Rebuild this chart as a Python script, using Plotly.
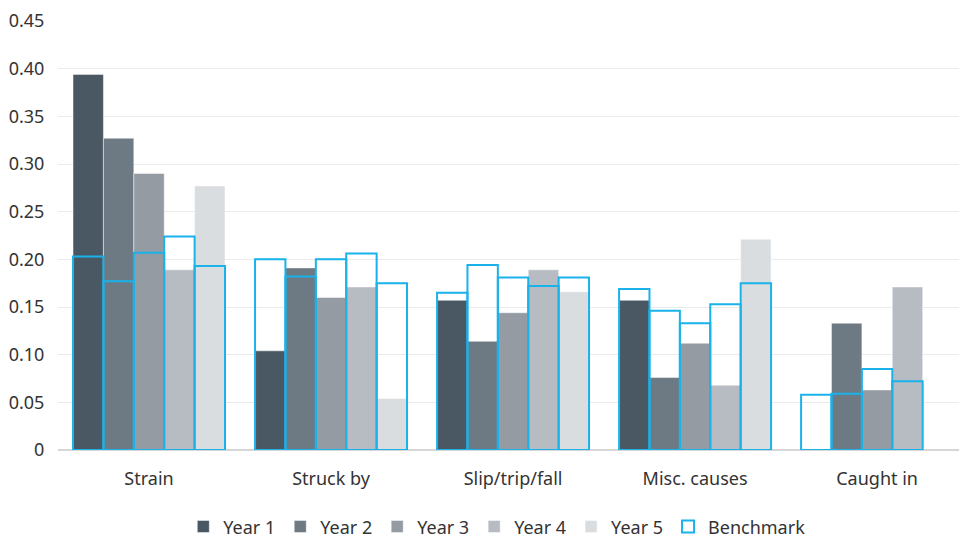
import plotly.graph_objects as go

# Injury cause categories
categories = ["Strain", "Struck by", "Slip/trip/fall", "Misc. causes", "Caught in"]
years = ["Year 1", "Year 2", "Year 3", "Year 4", "Year 5"]

# Rate per cause, one list per year
year_1 = [0.394, 0.104, 0.157, 0.157, 0.0]
year_2 = [0.327, 0.191, 0.114, 0.076, 0.133]
year_3 = [0.290, 0.160, 0.144, 0.112, 0.063]
year_4 = [0.189, 0.171, 0.189, 0.068, 0.171]
year_5 = [0.277, 0.054, 0.166, 0.221, None]

# Benchmark rate for each year slot within every cause
bench_1 = [0.203, 0.200, 0.165, 0.169, 0.058]
bench_2 = [0.177, 0.182, 0.194, 0.146, 0.059]
bench_3 = [0.207, 0.200, 0.181, 0.133, 0.085]
bench_4 = [0.224, 0.206, 0.172, 0.153, 0.072]
bench_5 = [0.193, 0.175, 0.181, 0.175, None]

y_ticks = [0, 0.05, 0.10, 0.15, 0.20, 0.25, 0.30, 0.35, 0.40, 0.45]
y_tick_text = ["0", "0.05", "0.10", "0.15", "0.20", "0.25", "0.30", "0.35", "0.40", "0.45"]

year_values = [year_1, year_2, year_3, year_4, year_5]
bench_values = [bench_1, bench_2, bench_3, bench_4, bench_5]
year_colors = ["#4a5864", "#6e7a83", "#949ba3", "#b7bbc2", "#dadde0"]
bench_color = "#1ab2ea"

bar_w = 0.167
start = -2.5 * bar_w

fig = go.Figure()
for i, (name, vals, col) in enumerate(zip(years, year_values, year_colors)):
    fig.add_trace(go.Bar(
        x=categories, y=vals, name=name,
        width=bar_w, offset=start + i * bar_w,
        marker=dict(color=col, line=dict(color="rgba(255,255,255,0.45)", width=1)),
    ))

for i, vals in enumerate(bench_values):
    fig.add_trace(go.Bar(
        x=categories, y=vals, name="Benchmark",
        width=bar_w, offset=start + i * bar_w,
        marker=dict(color="rgba(255,255,255,0)", line=dict(color=bench_color, width=2)),
        legendgroup="bench", showlegend=(i == 0),
    ))

font_family = "Noto Sans, Open Sans, sans-serif"
fig.update_layout(
    width=959, height=539,
    barmode="overlay",
    plot_bgcolor="white", paper_bgcolor="white",
    margin=dict(l=58, r=0, t=21, b=89, autoexpand=False),
    font=dict(family=font_family, size=18, color="#333333"),
    legend=dict(
        orientation="h", x=0.487, xanchor="center", y=-0.179, yanchor="middle",
        font=dict(size=18, color="#333333"), itemwidth=30, traceorder="normal",
        tracegroupgap=0,
    ),
    xaxis=dict(
        type="category", range=[-0.5, 4.45],
        showgrid=False, ticks="outside", ticklen=12, tickcolor="rgba(0,0,0,0)",
        showline=False,
    ),
    yaxis=dict(
        range=[0, 0.45], tickvals=y_ticks, ticktext=y_tick_text,
        showgrid=True, gridcolor="#ebebeb", gridwidth=1,
        zeroline=True, zerolinecolor="#d6d6d6", zerolinewidth=2,
        ticks="outside", ticklen=9, tickcolor="rgba(0,0,0,0)",
    ),
)

fig.write_html("out.html")
